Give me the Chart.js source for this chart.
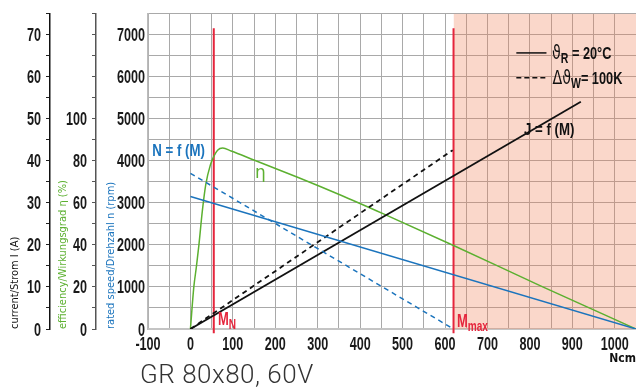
<!DOCTYPE html>
<html lang="de">
<head>
<meta charset="UTF-8">
<title>GR 80x80, 60V</title>
<style>
  body { margin: 0; background: #fff; }
  canvas { display: block; }
</style>
</head>
<body>
<canvas id="motorChart" width="636" height="387"></canvas>
<script src="https://cdn.jsdelivr.net/npm/chart.js"></script>
<script>
// Kennlinien GR 80x80, 60V  (Drehmoment in Ncm)
const speedTorque      = [0, 1050];
const speedCold        = [3150, 0];      // rpm, ϑR = 20°C
const speedHotTorque   = [0, 620];
const speedHot         = [3700, 0];      // rpm, ΔϑW = 100K
const currentTorque    = [0, 920];
const currentCold      = [0, 54];        // A
const currentHotTorque = [0, 618];
const currentHot       = [0, 42.5];      // A
const etaTorque = [0, 8, 14, 20, 28, 36, 47, 55, 64, 76, 96, 151, 254, 352, 455, 620, 825, 1050];
const etaValues = [0, 20, 29.5, 40, 56, 68.5, 78, 82, 85, 86, 84.6, 80.2, 72, 63.8, 54.7, 39.7, 20.5, 0];
const ratedTorque = 55;   // M_N
const maxTorque = 620;    // M_max

const torqueTicks  = [-100, 0, 100, 200, 300, 400, 500, 600, 700, 800, 900, 1000];
const speedTicks   = [0, 1000, 2000, 3000, 4000, 5000, 6000, 7000];
const currentTicks = [0, 10, 20, 30, 40, 50, 60, 70];
const etaTicks     = [0, 20, 40, 60, 80, 100];

const COND = "'DejaVu Sans Condensed', sans-serif";
const SANS = "'Liberation Sans', Arial, sans-serif";
const BLUE = '#1b74bd', GREEN = '#5cb030', RED = '#e5253c', GRID = '#a9a9a9';

const pts = (xs, ys) => xs.map((x, i) => ({ x: x, y: ys[i] }));
const hidden = { size: 14, family: COND };
const titleFont = { family: COND, size: 11 };

// Text in Teilen (Index/Tiefstellung), horizontal gestaucht wie die Originalschrift
function runs(ctx, x, y, parts, color, squeeze, align) {
  ctx.save();
  ctx.translate(x, y);
  ctx.scale(squeeze || 0.75, 1);
  ctx.fillStyle = color;
  ctx.textAlign = align || 'left';
  let cx = 0;
  parts.forEach(p => {
    ctx.font = p[1];
    ctx.fillText(p[0], cx, p[2] || 0);
    cx += ctx.measureText(p[0]).width;
  });
  ctx.restore();
}

// Achsenbeschriftung schmal zeichnen (Positionen aus den Chart.js-Skalen)
const tickLabels = {
  id: 'tickLabels',
  afterDraw(chart) {
    const { ctx, chartArea, scales } = chart;
    const f = 'bold 18px ' + SANS;
    ctx.save();
    ctx.textBaseline = 'alphabetic';
    [['yI', 9], ['yEta', 9], ['yN', 3]].forEach(([id, gap]) => {
      const s = scales[id];
      s.ticks.forEach(t => {
        if (t.label === '') return;
        runs(ctx, s.right - gap, s.getPixelForValue(t.value) + 6.5, [[String(t.label), f]], '#1a1a1a', 0.7, 'right');
      });
    });
    const sx = scales.x;
    sx.ticks.forEach(t => {
      if (t.label === '') return;
      runs(ctx, sx.getPixelForValue(t.value), chartArea.bottom + 21, [[String(t.label), f]], '#1a1a1a', 0.7, 'center');
    });
    ctx.restore();
  }
};

const notes = {
  id: 'notes',
  afterDatasetsDraw(chart) {
    const { ctx, scales: { x, yN } } = chart;
    const px = v => x.getPixelForValue(v), py = v => yN.getPixelForValue(v);
    const b = 'bold 17px ' + SANS, big = 'bold 18px ' + SANS, sub = 'bold 14px ' + SANS;
    ctx.save();
    ctx.textBaseline = 'alphabetic';

    runs(ctx, px(-90), py(4117), [['N = f (M)', b]], BLUE, 0.78);
    runs(ctx, px(152), py(3596), [['η', '17px DejaVu Sans']], GREEN, 1);
    runs(ctx, px(786), py(4613), [['J = f (M)', b]], '#111', 0.78);

    // Legende
    ctx.strokeStyle = '#111';
    ctx.lineWidth = 1.5;
    ctx.beginPath();
    ctx.moveTo(px(768), py(6561)); ctx.lineTo(px(839), py(6561));
    ctx.stroke();
    ctx.setLineDash([5, 3]);
    ctx.beginPath();
    ctx.moveTo(px(768), py(5969)); ctx.lineTo(px(839), py(5969));
    ctx.stroke();
    ctx.setLineDash([]);
    runs(ctx, px(852), py(6561) + 6, [['ϑ', '19px DejaVu Sans'], ['R', sub, 4], [' = 20°C', b]], '#111', 0.75);
    runs(ctx, px(853), py(5969) + 6, [['Δϑ', '19px DejaVu Sans'], ['W', sub, 4], ['= 100K', b]], '#111', 0.75);

    runs(ctx, px(65), py(95), [['M', big], ['N', sub, 4]], RED, 0.72);
    runs(ctx, px(628), py(47), [['M', big], ['max', sub, 4]], RED, 0.72);

    ctx.font = "300 26px Roboto, 'Liberation Sans', sans-serif";
    ctx.letterSpacing = '0.5px';
    ctx.fillStyle = '#333';
    ctx.fillText('GR 80x80, 60V', 140, 383);
    ctx.restore();
  }
};

new Chart(document.getElementById('motorChart'), {
  type: 'line',
  data: {
    datasets: [
      { data: pts(speedTorque, speedCold), yAxisID: 'yN', borderColor: BLUE, borderWidth: 1.5 },
      { data: pts(speedHotTorque, speedHot), yAxisID: 'yN', borderColor: BLUE, borderWidth: 1.5, borderDash: [5, 4] },
      { data: pts(currentTorque, currentCold), yAxisID: 'yI', borderColor: '#111', borderWidth: 1.8 },
      { data: pts(currentHotTorque, currentHot), yAxisID: 'yI', borderColor: '#111', borderWidth: 1.8, borderDash: [5, 4] },
      { data: pts(etaTorque, etaValues), yAxisID: 'yEta', borderColor: GREEN, borderWidth: 1.5, cubicInterpolationMode: 'monotone' },
      { data: pts([ratedTorque, ratedTorque], [-100, 7150]), yAxisID: 'yN', borderColor: RED, borderWidth: 2, clip: false },
      { data: pts([maxTorque, maxTorque], [-100, 7150]), yAxisID: 'yN', borderColor: RED, borderWidth: 2, clip: false },
      { data: pts([maxTorque, 1050], [7500, 7500]), yAxisID: 'yN', borderWidth: 0,
        backgroundColor: 'rgba(240,122,80,0.3)', fill: 'origin', order: 10 }
    ]
  },
  options: {
    responsive: false,
    animation: false,
    layout: { padding: { top: 12, bottom: 18, left: 0, right: 0 } },
    elements: { point: { radius: 0 }, line: { tension: 0 } },
    plugins: { legend: { display: false }, tooltip: { enabled: false } },
    scales: {
      x: {
        type: 'linear', min: -100, max: 1050,
        ticks: { stepSize: 50, autoSkip: false, maxRotation: 0, padding: 5, color: 'rgba(0,0,0,0)', font: hidden,
                 callback: v => torqueTicks.includes(v) ? v : '' },
        grid: { color: GRID, drawTicks: false },
        border: { color: '#c4c4c4', width: 2 },
        title: { display: true, text: 'Ncm', align: 'end', color: '#111', font: { family: COND, size: 12, weight: 'bold' }, padding: { top: 0, bottom: 3 } },
        afterFit: s => { s.height = 40; s.paddingLeft = 0; s.paddingRight = 0; }
      },
      yN: {
        position: 'left', weight: 0, min: 0, max: 7500,
        ticks: { stepSize: 500, autoSkip: false, padding: 2, color: 'rgba(0,0,0,0)', font: hidden,
                 callback: v => speedTicks.includes(v) ? v : '' },
        grid: { color: GRID, drawTicks: false },
        border: { color: '#bbb', width: 1.5 },
        title: { display: true, text: 'rated speed/Drehzahl n (rpm)', align: 'start', color: BLUE, font: titleFont, padding: { top: 9, bottom: 0 } },
        afterFit: s => { s.width = 52; }
      },
      yEta: {
        position: 'left', weight: 1, min: 0, max: 150,
        ticks: { stepSize: 10, autoSkip: false, padding: 5, color: 'rgba(0,0,0,0)', font: hidden,
                 callback: v => etaTicks.includes(v) ? v : '' },
        grid: { drawOnChartArea: false, tickLength: 4, color: '#555' },
        border: { color: '#555', width: 1.5 },
        title: { display: true, text: 'efficiency/Wirkungsgrad η (%)', align: 'start', color: GREEN, font: titleFont, padding: { top: 7, bottom: 0 } },
        afterFit: s => { s.width = 46; }
      },
      yI: {
        position: 'left', weight: 2, min: 0, max: 75,
        ticks: { stepSize: 5, autoSkip: false, padding: 5, color: 'rgba(0,0,0,0)', font: hidden,
                 callback: v => currentTicks.includes(v) ? v : '' },
        grid: { drawOnChartArea: false, tickLength: 4, color: '#222' },
        border: { color: '#111', width: 1.5 },
        title: { display: true, text: 'current/Strom I (A)', align: 'start', color: '#111', font: titleFont, padding: { top: 9, bottom: 0 } },
        afterFit: s => { s.width = 50; }
      }
    }
  },
  plugins: [notes, tickLabels]
});
</script>
</body>
</html>
